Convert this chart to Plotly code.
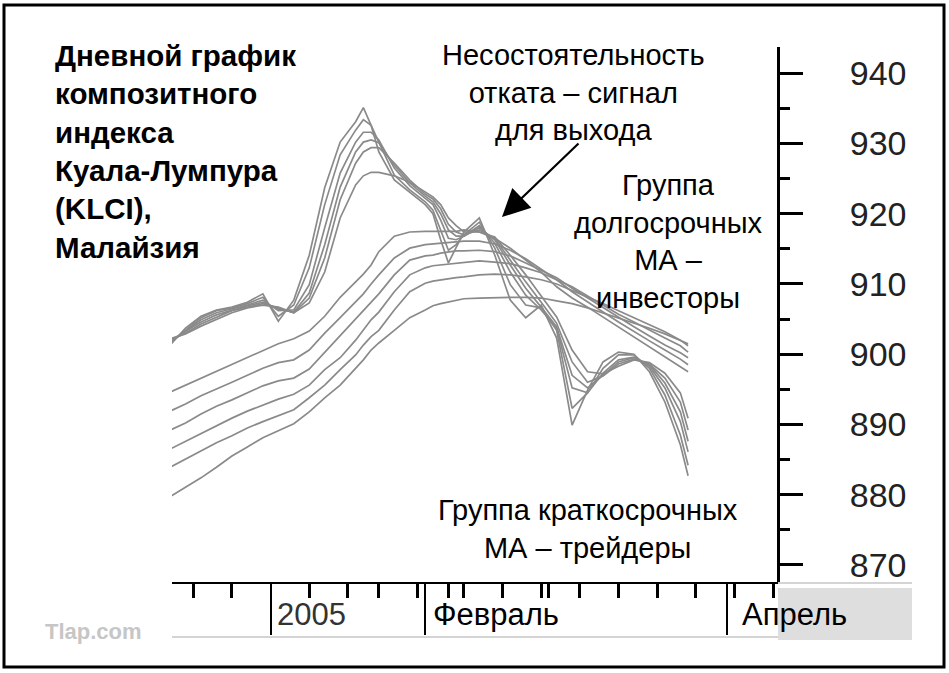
import plotly.graph_objects as go

# ---------------- data ----------------
dates = ["2004-12-15", "2004-12-17", "2004-12-21", "2004-12-23", "2004-12-27", "2004-12-29",
         "2004-12-31", "2005-01-04", "2005-01-06", "2005-01-10", "2005-01-12", "2005-01-14",
         "2005-01-18", "2005-01-19", "2005-01-20", "2005-01-24", "2005-01-26", "2005-01-28",
         "2005-02-02", "2005-02-03", "2005-02-04", "2005-02-07", "2005-02-08", "2005-02-14",
         "2005-02-16", "2005-02-18", "2005-02-22", "2005-02-24", "2005-02-28", "2005-03-02",
         "2005-03-04", "2005-03-08", "2005-03-10", "2005-03-14", "2005-03-16", "2005-03-18",
         "2005-03-22", "2005-03-24", "2005-03-25"]

# short-term group (traders)
ma3 = [901.3, 903.7, 905.4, 906.3, 906.7, 907.4, 908.6, 904.7, 907.7, 914.1, 923.7, 930.2, 933.1,
       935.1, 932.6, 928.8, 924.8, 923.0, 921.3, 920.0, 916.3, 913.0, 915.1, 917.4, 919.4, 914.1,
       907.7, 905.2, 907.0, 902.3, 889.9, 894.9, 898.9, 900.3, 900.0, 897.5, 893.2, 887.1, 882.7]
ma5 = [901.6, 903.4, 905.2, 906.2, 906.6, 907.2, 908.1, 905.4, 907.0, 912.3, 921.3, 928.4, 931.9,
       933.4, 932.6, 930.2, 925.5, 923.4, 921.7, 920.5, 917.7, 914.8, 915.6, 917.0, 918.8, 915.1,
       909.9, 907.0, 906.6, 903.4, 892.3, 894.5, 898.0, 899.9, 899.9, 898.0, 894.2, 888.5, 884.2]
ma8 = [901.7, 903.3, 904.9, 905.9, 906.4, 907.0, 907.7, 906.2, 906.3, 909.9, 918.0, 925.8, 930.2,
       931.6, 931.6, 930.5, 926.5, 924.0, 922.2, 921.3, 919.1, 916.5, 916.3, 916.8, 918.3, 915.8,
       911.7, 908.4, 906.3, 903.7, 895.2, 894.5, 897.3, 899.2, 899.6, 898.3, 895.2, 890.4, 886.1]
ma10 = [901.9, 903.2, 904.6, 905.6, 906.3, 906.9, 907.4, 906.4, 906.0, 908.7, 915.6, 923.8, 928.8,
        930.2, 930.5, 930.1, 926.9, 924.4, 922.5, 921.7, 920.0, 917.7, 916.8, 916.8, 918.0, 916.3,
        912.7, 909.4, 906.7, 903.9, 897.0, 895.2, 897.0, 898.9, 899.5, 898.5, 895.9, 891.8, 887.6]
ma12 = [902.0, 903.0, 904.3, 905.3, 906.2, 906.7, 907.2, 906.6, 905.9, 908.0, 913.7, 922.0, 927.2,
        928.8, 929.4, 929.4, 927.2, 924.8, 922.8, 922.1, 920.7, 918.5, 917.4, 917.0, 917.7, 916.5,
        913.4, 910.3, 907.4, 904.4, 898.9, 896.0, 896.9, 898.6, 899.3, 898.6, 896.6, 893.2, 889.2]
ma15 = [902.2, 902.9, 904.0, 905.0, 905.9, 906.6, 907.0, 906.7, 905.9, 907.3, 911.7, 919.4, 924.1,
        925.4, 925.9, 925.9, 925.4, 924.5, 923.1, 922.4, 921.3, 919.4, 918.3, 917.4, 917.4, 916.7,
        914.1, 911.3, 908.3, 905.3, 900.6, 897.5, 897.2, 898.3, 899.2, 898.8, 897.3, 894.5, 890.9]

# long-term group (investors)
ma30 = [894.6, 895.6, 896.6, 897.6, 898.6, 899.6, 900.6, 901.5, 902.2, 903.3, 905.4, 908.1, 910.3,
        911.4, 912.7, 914.6, 916.8, 917.4, 917.5, 917.5, 917.5, 917.5, 917.5, 917.7, 917.4, 916.5,
        915.1, 913.4, 911.7, 909.6, 908.0, 906.7, 905.3, 903.9, 902.5, 901.0, 899.6, 898.3, 897.5]
ma35 = [891.9, 892.9, 894.1, 895.0, 896.0, 897.0, 898.0, 898.8, 899.2, 900.6, 903.0, 905.2, 907.4,
        908.6, 910.0, 911.3, 913.7, 915.1, 915.6, 915.7, 915.8, 916.0, 916.1, 916.1, 916.1, 915.7,
        914.8, 913.6, 912.1, 910.6, 908.9, 907.4, 906.0, 904.6, 903.2, 901.9, 900.6, 899.3, 898.5]
ma40 = [889.2, 890.2, 891.5, 892.6, 893.5, 894.5, 895.5, 896.2, 896.6, 897.9, 900.3, 902.7, 905.0,
        906.3, 907.4, 908.6, 911.3, 913.4, 914.0, 914.1, 914.4, 914.6, 914.7, 914.7, 914.8, 914.6,
        914.0, 913.0, 912.0, 910.9, 909.4, 908.0, 906.6, 905.2, 903.9, 902.6, 901.3, 900.2, 899.5]
ma45 = [886.5, 887.6, 888.8, 889.9, 890.9, 891.9, 892.8, 893.6, 894.3, 895.6, 897.8, 899.5, 902.0,
        903.4, 904.9, 906.0, 908.9, 911.3, 912.3, 912.6, 912.7, 912.9, 913.0, 913.1, 913.3, 913.1,
        912.9, 912.3, 911.6, 910.6, 909.6, 908.3, 907.0, 905.7, 904.6, 903.4, 902.3, 901.2, 900.3]
ma50 = [883.9, 885.1, 886.2, 887.4, 888.4, 889.5, 890.4, 891.2, 892.1, 893.8, 895.6, 897.8, 899.9,
        901.3, 902.5, 903.4, 906.3, 908.9, 910.1, 910.4, 910.6, 910.7, 910.9, 911.0, 911.3, 911.4,
        911.3, 911.0, 910.6, 910.0, 909.1, 908.1, 907.2, 906.2, 905.2, 904.2, 903.2, 902.0, 901.2]
ma60 = [879.7, 881.0, 882.4, 883.9, 885.5, 886.8, 888.1, 889.1, 890.1, 891.8, 893.8, 895.6, 898.0,
        899.2, 900.6, 901.6, 903.4, 905.2, 906.3, 906.9, 907.2, 907.4, 907.7, 907.9, 908.0, 908.1,
        908.1, 908.1, 908.0, 907.6, 907.2, 906.6, 905.9, 905.2, 904.4, 903.7, 902.9, 902.0, 901.5]

series = [("MA3", ma3), ("MA5", ma5), ("MA8", ma8), ("MA10", ma10), ("MA12", ma12), ("MA15", ma15),
          ("MA30", ma30), ("MA35", ma35), ("MA40", ma40), ("MA45", ma45), ("MA50", ma50), ("MA60", ma60)]

holidays = ["2005-01-21", "2005-02-01", "2005-02-09", "2005-02-10", "2005-02-11"]
month_ticks = ["2005-01-03", "2005-02-02", "2005-04-01"]
month_labels = ["2005", "Февраль", "Апрель"]
week_ticks = ["2004-12-20", "2004-12-27", "2005-01-10", "2005-01-17", "2005-01-24", "2005-01-31",
              "2005-02-07", "2005-02-14", "2005-02-21", "2005-02-28", "2005-03-01", "2005-03-07",
              "2005-03-14", "2005-03-21", "2005-03-28", "2005-04-04", "2005-04-11"]
y_major = [870, 880, 890, 900, 910, 920, 930, 940]
y_minor = [875, 885, 895, 905, 915, 925, 935]
x_range = ["2004-12-15 06:00", "2005-04-11 12:00"]
y_range = [867.57, 943.74]

# ---------------- layout helpers ----------------
FONT = "Liberation Sans, Arial, sans-serif"
W, H = 949, 673
L, R, T, B = 172, 777, 47, 582


def px(x):
    return (x - L) / (R - L)


def py(y):
    return (B - y) / (B - T)


fig = go.Figure()
for name, vals in series:
    fig.add_trace(go.Scatter(x=dates, y=vals, mode="lines", name=name,
                             line=dict(color="#8a8a8a", width=1.7),
                             hoverinfo="skip", showlegend=False))

fig.update_layout(
    width=W, height=H,
    margin=dict(l=L, r=W - R, t=T, b=H - B, autoexpand=False),
    paper_bgcolor="white", plot_bgcolor="white",
    showlegend=False,
    font=dict(family=FONT, color="black"),
)

fig.update_xaxes(
    type="date", range=x_range,
    rangebreaks=[dict(bounds=["sat", "mon"]), dict(values=holidays)],
    showgrid=False, zeroline=False, automargin=False,
    showline=True, linecolor="black", linewidth=2,
    ticks="outside", tickmode="array", tickvals=month_ticks,
    ticklen=51, tickwidth=2, tickcolor="black", showticklabels=False,
    minor=dict(tickmode="array", tickvals=week_ticks, ticks="outside",
               ticklen=14, tickwidth=3, tickcolor="black", showgrid=False),
)

fig.update_yaxes(
    side="right", range=y_range, automargin=False,
    showgrid=False, zeroline=False,
    showline=True, linecolor="black", linewidth=3,
    ticks="outside", tickmode="array", tickvals=y_major,
    ticklen=23, tickwidth=3, tickcolor="black",
    tickfont=dict(family=FONT, size=34, color="#222222"),
    ticklabelstandoff=40,
    minor=dict(tickmode="array", tickvals=y_minor, ticks="outside", ticklen=10, tickwidth=3,
               tickcolor="black", showgrid=False),
)

annotations = []
# x-axis labels
for d, lab, shift in zip(month_ticks, month_labels, [4, 6, 13]):
    annotations.append(dict(x=d, xref="x", y=py(614), yref="paper", text=lab,
                            showarrow=False, xanchor="left", yanchor="middle", xshift=shift,
                            font=dict(family=FONT, size=31,
                                      color="#333333" if lab == "2005" else "black")))

annotations += [
    dict(x=px(53), y=py(37), xref="paper", yref="paper", xanchor="left", yanchor="top",
         align="left", showarrow=False,
         text="Дневной график<br>композитного<br>индекса<br>Куала-Лумпура<br>(KLCI),<br>Малайзия",
         font=dict(family=FONT, size=29.5, color="black", weight="bold")),
    dict(x=px(573), y=py(37), xref="paper", yref="paper", xanchor="center", yanchor="top",
         align="center", showarrow=False,
         text="Несостоятельность<br>отката – сигнал<br>для выхода",
         font=dict(family=FONT, size=29, color="black")),
    dict(x=px(668), y=py(167), xref="paper", yref="paper", xanchor="center", yanchor="top",
         align="center", showarrow=False,
         text="Группа<br>долгосрочных<br>МА –<br>инвесторы",
         font=dict(family=FONT, size=29, color="black")),
    dict(x=px(588), y=py(492), xref="paper", yref="paper", xanchor="center", yanchor="top",
         align="center", showarrow=False,
         text="Группа краткосрочных<br>МА – трейдеры",
         font=dict(family=FONT, size=29, color="black")),
    dict(x=px(502), y=py(217), xref="paper", yref="paper", text="", showarrow=True,
         ax=78, ay=-75, arrowhead=2, arrowsize=2.5, arrowwidth=2.2, arrowcolor="black",
         standoff=0),
    dict(x=px(43), y=py(631), xref="paper", yref="paper", xanchor="left", yanchor="middle",
         showarrow=False, text="Tlap.com",
         font=dict(family=FONT, size=22, color="#c6c6c6", weight="bold")),
]
fig.update_layout(annotations=annotations)

shapes = [
    # grey block at bottom right
    dict(type="rect", xref="paper", yref="paper", x0=px(778), x1=px(912), y0=py(640), y1=py(588),
         fillcolor="#dedede", line=dict(width=0), layer="below"),
    # light lines of the date strip
    dict(type="line", xref="paper", yref="paper", x0=px(172), x1=px(778), y0=py(637), y1=py(637),
         line=dict(color="#d4d4d4", width=2)),
    dict(type="line", xref="paper", yref="paper", x0=px(778), x1=px(912), y0=py(583), y1=py(583),
         line=dict(color="#d4d4d4", width=2)),
    # outer frame
    dict(type="rect", xref="paper", yref="paper", x0=px(4), x1=px(944), y0=py(667), y1=py(5),
         line=dict(color="black", width=3), fillcolor="rgba(0,0,0,0)"),
]
fig.update_layout(shapes=shapes)

fig.write_html("out.html")
